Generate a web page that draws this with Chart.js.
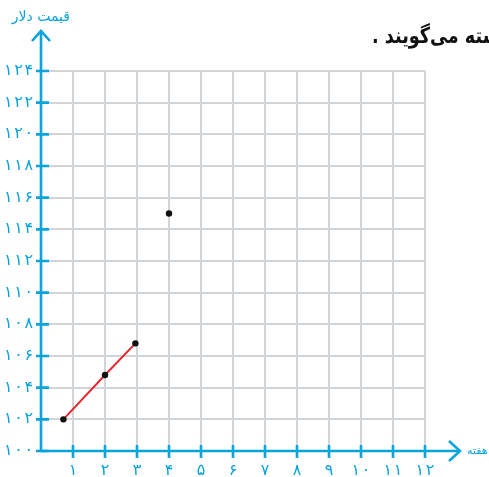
<!DOCTYPE html>
<html><head><meta charset="utf-8">
<script src="https://cdn.jsdelivr.net/npm/chart.js@4.4.0/dist/chart.umd.min.js"></script>
<style>html,body{margin:0;padding:0;background:#fff}#wrap{width:489px;height:477px;position:relative}</style>
</head><body><div id="wrap"><canvas id="c" width="489" height="477"></canvas></div>
<script>
const lineX = [0.7, 2, 2.95];
const lineY = [102, 104.8, 106.8];
const pointX = [4];
const pointY = [115];
const xTicks = [1,2,3,4,5,6,7,8,9,10,11,12];
const yTicks = [100,102,104,106,108,110,112,114,116,118,120,122,124];
const yTitle = 'قیمت دلار';
const xTitle = 'هفته';
const heading = 'دسته می‌گویند .';

const CYAN = '#0aa3dc';
const GRID = '#d2d5d8';
const fa = n => String(n).replace(/\d/g, d => '۰۱۲۳۴۵۶۷۸۹'[d]).split('').join('\u200A');

const deco = {
  id: 'deco',
  afterDraw(chart) {
    const ctx = chart.ctx, xs = chart.scales.x, ys = chart.scales.y;
    const x0 = xs.getPixelForValue(0), y0 = ys.getPixelForValue(100);
    const xEnd = xs.getPixelForValue(12), yTop = ys.getPixelForValue(124);
    ctx.save();
    ctx.strokeStyle = CYAN; ctx.lineWidth = 2.6; ctx.lineCap = 'butt';
    ctx.beginPath();
    ctx.moveTo(x0, y0 + 1); ctx.lineTo(x0, yTop - 40);
    ctx.moveTo(x0 - 1, y0); ctx.lineTo(xEnd + 35, y0);
    ctx.stroke();
    ctx.beginPath();
    ctx.moveTo(x0 - 9, yTop - 30); ctx.lineTo(x0, yTop - 40); ctx.lineTo(x0 + 9, yTop - 30);
    ctx.moveTo(xEnd + 24, y0 - 10); ctx.lineTo(xEnd + 35, y0); ctx.lineTo(xEnd + 24, y0 + 10);
    ctx.stroke();
    ctx.beginPath();
    yTicks.forEach(v => { const p = ys.getPixelForValue(v); ctx.moveTo(x0 - 5, p); ctx.lineTo(x0 + 8, p); });
    xTicks.forEach(v => { const p = xs.getPixelForValue(v); ctx.moveTo(p, y0 - 6); ctx.lineTo(p, y0 + 7); });
    ctx.stroke();
    ctx.fillStyle = CYAN; ctx.textBaseline = 'middle';
    ctx.direction = 'rtl';
    ctx.font = '14px "DejaVu Sans"'; ctx.textAlign = 'right';
    ctx.fillText(yTitle, 70, 17);
    ctx.font = '11px "DejaVu Sans"'; ctx.textAlign = 'left';
    ctx.fillText(xTitle, 467, 451);
    ctx.fillStyle = '#111'; ctx.font = 'bold 22px "DejaVu Sans"'; ctx.textAlign = 'left';
    ctx.translate(372, 37); ctx.scale(0.8, 1);
    ctx.fillText(heading, 0, 0);
    ctx.restore();
  }
};

new Chart(document.getElementById('c'), {
  type: 'scatter',
  data: {
    datasets: [
      { data: lineX.map((x, i) => ({x, y: lineY[i]})), showLine: true, borderColor: '#e8262d', borderWidth: 2,
        pointBackgroundColor: '#111', pointBorderColor: '#111', pointRadius: 3.2, pointBorderWidth: 0 },
      { data: pointX.map((x, i) => ({x, y: pointY[i]})), showLine: false,
        pointBackgroundColor: '#111', pointBorderColor: '#111', pointRadius: 3.2, pointBorderWidth: 0 }
    ]
  },
  options: {
    responsive: false, animation: false, devicePixelRatio: 1,
    layout: { padding: { left: 0, top: 71, right: 64, bottom: 0 } },
    plugins: { legend: { display: false }, tooltip: { enabled: false } },
    scales: {
      x: { type: 'linear', min: 0, max: 12,
        afterFit(s) { s.height = 26; },
        afterBuildTicks(s) { s.ticks = [0, ...xTicks].map(v => ({value: v})); },
        grid: { color: GRID, lineWidth: 2, drawTicks: false },
        border: { display: false },
        ticks: { padding: 10, color: CYAN, font: { family: 'DejaVu Sans', size: 16 }, callback: v => v === 0 ? '' : fa(v) } },
      y: { type: 'linear', min: 100, max: 124,
        afterFit(s) { s.width = 41; },
        afterBuildTicks(s) { s.ticks = yTicks.map(v => ({value: v})); },
        grid: { color: GRID, lineWidth: 2, drawTicks: false },
        border: { display: false },
        ticks: { padding: 8, color: CYAN, font: { family: 'DejaVu Sans', size: 16 }, callback: v => fa(v) } }
    }
  },
  plugins: [deco]
});
</script></body></html>
